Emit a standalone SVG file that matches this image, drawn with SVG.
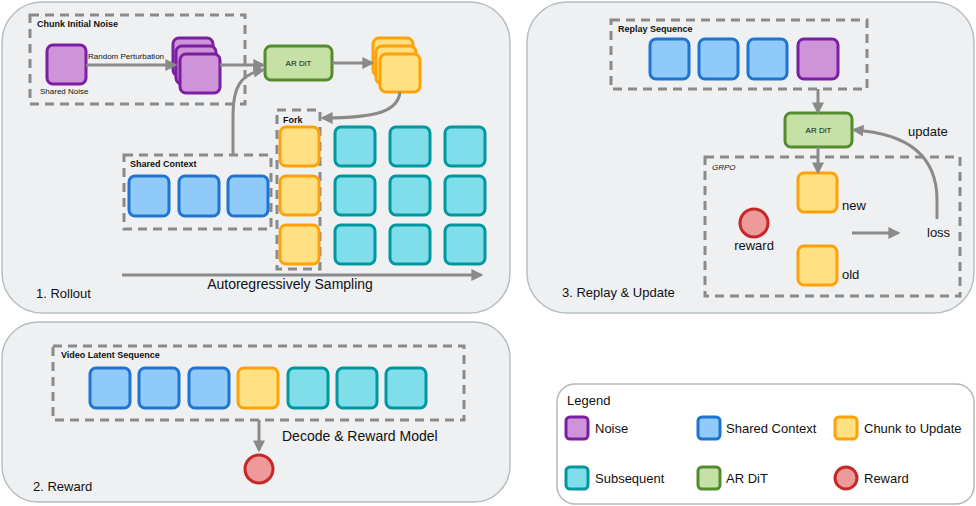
<svg xmlns="http://www.w3.org/2000/svg" width="976" height="506" viewBox="0 0 976 506">
<defs>
<marker id="ah" viewBox="0 0 10 10" refX="8" refY="5" markerWidth="4" markerHeight="4" orient="auto" markerUnits="strokeWidth">
<path d="M0,0 L10,5 L0,10 z" fill="#8a8a8a"/>
</marker>
<style>
.panel{fill:#eef0f2;stroke:#b7bfc3;stroke-width:1.5}
.dash{fill:none;stroke:#8a8a8a;stroke-width:3;stroke-dasharray:9 6}
.conn{fill:none;stroke:#8a8a8a;stroke-width:3;marker-end:url(#ah)}
.pur{fill:#ce93d8;stroke:#7b1fa2;stroke-width:3}
.blu{fill:#90caf9;stroke:#1e74cf;stroke-width:3}
.yel{fill:#ffe082;stroke:#ffa20a;stroke-width:3}
.tea{fill:#80deea;stroke:#00979f;stroke-width:3}
.grn{fill:#c5e1a5;stroke:#558b2f;stroke-width:3}
.red{fill:#ef9a9a;stroke:#c62828;stroke-width:3}
text{font-family:"Liberation Sans",Arial,sans-serif;fill:#111}
.lbl{font-size:9px;font-weight:bold}
.sm{font-size:8px}
.md{font-size:13px}
.lg{font-size:14px}
</style>
</defs>

<g id="panel-rollout">
<rect class="panel" x="2" y="2" width="508" height="311" rx="40"/>
<text class="md" x="36" y="298">1. Rollout</text>
</g>
<g id="panel-replay">
<rect class="panel" x="527" y="2" width="447" height="311" rx="40"/>
<text class="md" x="562" y="297">3. Replay &amp; Update</text>
</g>
<g id="panel-reward">
<rect class="panel" x="2" y="322" width="508" height="180" rx="36"/>
<text class="md" x="33" y="491">2. Reward</text>
</g>

<!-- Rollout panel -->
<g id="chunk-initial-noise">
<rect class="dash" x="30" y="15" width="215" height="89"/>
<text class="lbl" x="37" y="27">Chunk Initial Noise</text>
</g>
<g id="shared-noise">
<rect class="pur" x="47" y="45" width="39" height="39" rx="6"/>
<text class="sm" x="40" y="94">Shared Noise</text>
</g>
<g id="noise-stack">
<rect class="pur" x="173" y="38" width="40" height="38" rx="6"/>
<rect class="pur" x="176" y="46" width="40" height="38" rx="6"/>
<rect class="pur" x="180" y="54" width="40" height="39" rx="6"/>
</g>
<g id="ar-dit-1">
<rect class="grn" x="265" y="46" width="67" height="34" rx="6"/>
<text class="sm" x="298.5" y="66" text-anchor="middle">AR DiT</text>
</g>
<g id="chunk-stack">
<rect class="yel" x="373" y="38" width="40" height="38" rx="6"/>
<rect class="yel" x="376" y="46" width="40" height="38" rx="6"/>
<rect class="yel" x="380" y="54" width="40" height="38" rx="6"/>
</g>
<g id="shared-context">
<rect class="dash" x="124" y="155" width="147" height="74"/>
<text class="lbl" x="130" y="167">Shared Context</text>
<rect class="blu" x="129" y="176" width="40" height="40" rx="6"/>
<rect class="blu" x="179" y="176" width="40" height="40" rx="6"/>
<rect class="blu" x="228" y="176" width="40" height="40" rx="6"/>
</g>
<g id="fork">
<rect class="dash" x="277" y="110" width="43" height="159"/>
<text class="lbl" x="283" y="123">Fork</text>
<rect class="yel" x="280" y="127" width="39" height="39" rx="6"/>
<rect class="yel" x="280" y="176" width="39" height="39" rx="6"/>
<rect class="yel" x="280" y="225" width="39" height="39" rx="6"/>
</g>
<g id="subsequent-grid">
<rect class="tea" x="335" y="127" width="40" height="39" rx="6"/>
<rect class="tea" x="390" y="127" width="40" height="39" rx="6"/>
<rect class="tea" x="445" y="127" width="40" height="39" rx="6"/>
<rect class="tea" x="335" y="176" width="40" height="39" rx="6"/>
<rect class="tea" x="390" y="176" width="40" height="39" rx="6"/>
<rect class="tea" x="445" y="176" width="40" height="39" rx="6"/>
<rect class="tea" x="335" y="225" width="40" height="39" rx="6"/>
<rect class="tea" x="390" y="225" width="40" height="39" rx="6"/>
<rect class="tea" x="445" y="225" width="40" height="39" rx="6"/>
</g>
<text class="sm" x="88" y="59">Random Perturbation</text>
<text class="lg" x="290" y="289" text-anchor="middle">Autoregressively Sampling</text>

<!-- Replay panel -->
<g id="replay-sequence">
<rect class="dash" x="611" y="20" width="256" height="69"/>
<text class="lbl" x="618" y="32">Replay Sequence</text>
<rect class="blu" x="650" y="39" width="39" height="40" rx="6"/>
<rect class="blu" x="699" y="39" width="39" height="40" rx="6"/>
<rect class="blu" x="748" y="39" width="39" height="40" rx="6"/>
<rect class="pur" x="798" y="39" width="40" height="40" rx="6"/>
</g>
<g id="ar-dit-2">
<rect class="grn" x="785" y="113" width="67" height="34" rx="6"/>
<text class="sm" x="818.5" y="133" text-anchor="middle">AR DiT</text>
</g>
<g id="grpo">
<rect class="dash" x="705" y="157" width="255" height="139"/>
<text class="sm" x="712" y="170" font-style="italic">GRPO</text>
</g>
<g id="new">
<rect class="yel" x="798" y="173" width="39" height="39" rx="6"/>
<text class="md" x="842" y="210">new</text>
</g>
<g id="old">
<rect class="yel" x="798" y="246" width="39" height="39" rx="6"/>
<text class="md" x="842" y="279">old</text>
</g>
<g id="reward-grpo">
<circle class="red" cx="754" cy="223" r="14"/>
<text class="md" x="754" y="250" text-anchor="middle">reward</text>
</g>
<g id="loss">
<text class="md" x="927" y="237">loss</text>
</g>
<text class="md" x="908" y="136">update</text>

<!-- Reward panel -->
<g id="video-latent-sequence">
<rect class="dash" x="53" y="346" width="411" height="74"/>
<text class="lbl" x="61" y="358">Video Latent Sequence</text>
<rect class="blu" x="90" y="368" width="40" height="40" rx="6"/>
<rect class="blu" x="139" y="368" width="40" height="40" rx="6"/>
<rect class="blu" x="189" y="368" width="40" height="40" rx="6"/>
<rect class="yel" x="238" y="368" width="40" height="40" rx="6"/>
<rect class="tea" x="288" y="368" width="40" height="40" rx="6"/>
<rect class="tea" x="337" y="368" width="40" height="40" rx="6"/>
<rect class="tea" x="386" y="368" width="40" height="40" rx="6"/>
</g>
<g id="reward-out">
<circle class="red" cx="259" cy="469" r="14"/>
</g>
<text class="lg" x="282" y="441">Decode &amp; Reward Model</text>

<!-- Connectors -->
<g id="connectors">
<path class="conn" d="M86,65 L175,65"/>
<path class="conn" d="M220,65 L263,65"/>
<path class="conn" d="M233,155 L233,115 C233,88 240,74 263,70"/>
<path class="conn" d="M332,63 L372,63"/>
<path class="conn" d="M400,92 C398,110 380,118 323,118"/>
<path class="conn" d="M122,275 L481,275"/>
<path class="conn" d="M818,89 L818,112"/>
<path class="conn" d="M818,147 L818,172"/>
<path class="conn" d="M852,233 L898,233"/>
<path class="conn" d="M937,219 L937,200 C937,150 900,133 854,130"/>
<path class="conn" d="M259,420 L259,450"/>
</g>

<!-- Legend -->
<g id="legend">
<rect x="557" y="384" width="417" height="120" rx="18" fill="#ffffff" stroke="#b7b7b7" stroke-width="1.5"/>
<text class="md" x="567" y="405">Legend</text>
<rect class="pur" x="566" y="417" width="22" height="22" rx="4" stroke-width="2"/>
<text class="md" x="595" y="433">Noise</text>
<rect class="blu" x="698" y="417" width="22" height="22" rx="4" stroke-width="2"/>
<text class="md" x="726" y="433">Shared Context</text>
<rect class="yel" x="835" y="417" width="22" height="22" rx="4" stroke-width="2"/>
<text class="md" x="864" y="433">Chunk to Update</text>
<rect class="tea" x="566" y="467" width="22" height="22" rx="4" stroke-width="2"/>
<text class="md" x="595" y="483">Subsequent</text>
<rect class="grn" x="698" y="467" width="22" height="22" rx="4" stroke-width="2"/>
<text class="md" x="726" y="483">AR DiT</text>
<circle class="red" cx="846" cy="478" r="11" stroke-width="2"/>
<text class="md" x="864" y="483">Reward</text>
</g>
</svg>
